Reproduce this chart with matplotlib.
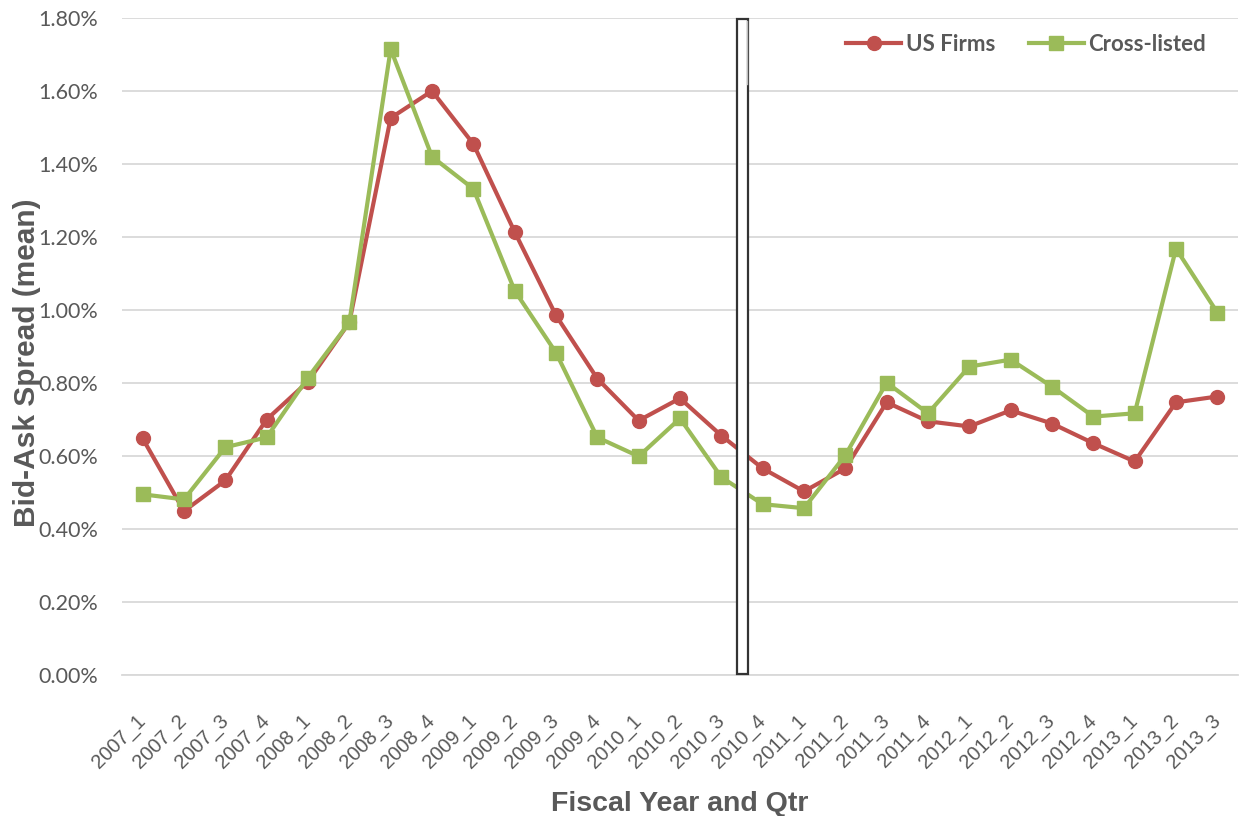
import matplotlib
matplotlib.use("Agg")
import matplotlib.pyplot as plt
from matplotlib.patches import Rectangle
from matplotlib.ticker import FuncFormatter, MultipleLocator

categories = ["2007_1", "2007_2", "2007_3", "2007_4", "2008_1", "2008_2", "2008_3", "2008_4",
              "2009_1", "2009_2", "2009_3", "2009_4", "2010_1", "2010_2", "2010_3", "2010_4",
              "2011_1", "2011_2", "2011_3", "2011_4", "2012_1", "2012_2", "2012_3", "2012_4",
              "2013_1", "2013_2", "2013_3"]
us_firms = [0.648, 0.449, 0.533, 0.700, 0.804, 0.966, 1.526, 1.600, 1.455, 1.214, 0.985,
            0.812, 0.697, 0.758, 0.656, 0.566, 0.503, 0.566, 0.747, 0.695, 0.681, 0.725,
            0.689, 0.635, 0.585, 0.747, 0.763]
cross_listed = [0.495, 0.481, 0.624, 0.651, 0.815, 0.966, 1.715, 1.420, 1.332, 1.053, 0.883,
                0.651, 0.599, 0.703, 0.542, 0.468, 0.457, 0.602, 0.801, 0.717, 0.845, 0.864,
                0.790, 0.708, 0.717, 1.168, 0.993]

RED = "#C0504D"
GREEN = "#9BBB59"
TXT = "#595959"

fig = plt.figure(figsize=(12.41, 8.16), dpi=100)
W, H = 1241, 816
ax = fig.add_axes([122 / W, (H - 675) / H, (1238 - 122) / W, (675 - 18) / H])

x = list(range(len(categories)))
ax.plot(x, us_firms, color=RED, lw=3, marker="o", ms=10, label="US Firms", zorder=3)
ax.plot(x, cross_listed, color=GREEN, lw=3, marker="s", ms=9.5, label="Cross-listed", zorder=3)

ax.set_xlim(-0.5, len(categories) - 0.5)
ax.set_ylim(0, 1.8)
ax.yaxis.set_major_locator(MultipleLocator(0.2))
ax.yaxis.set_major_formatter(FuncFormatter(lambda v, p: f"{v:.2f}%"))
ax.grid(axis="y", color="#D9D9D9", lw=1.3)
ax.set_axisbelow(True)
for s in ["top", "right", "left"]:
    ax.spines[s].set_visible(False)
ax.spines["bottom"].set_color("#D9D9D9")
ax.spines["bottom"].set_linewidth(1.3)
ax.tick_params(axis="both", length=0)
ax.tick_params(axis="y", pad=17)
ax.tick_params(axis="x", pad=31)
ax.set_xticks(x)
ax.set_xticklabels(categories, rotation=45, ha="right", va="center", rotation_mode="anchor",
                   fontsize=14.5, color=TXT, family="Liberation Sans")
for lab in ax.get_yticklabels():
    lab.set_fontsize(15.5)
    lab.set_color(TXT)
    lab.set_family("Lato")

ax.set_xlabel("Fiscal Year and Qtr", fontsize=20.5, fontweight="bold", color=TXT,
              family="Liberation Sans")
ax.xaxis.set_label_coords(0.5, -0.176)
ax.set_ylabel("Bid-Ask Spread (mean)", fontsize=21.5, fontweight="bold", color=TXT,
              family="Liberation Sans", va="center")
ax.yaxis.set_label_coords(-0.085, 0.475)

# marker box between 2010_3 and 2010_4
rect = Rectangle((14.39, 0.002), 0.25, 1.794, facecolor="white", edgecolor="#333333",
                 lw=1.6, zorder=5, clip_on=False)
ax.add_patch(rect)
ax.plot([14.62, 14.62], [1.62, 1.792], color="#BBBBBB", lw=1, zorder=6)

leg = ax.legend(loc="upper right", ncol=2, frameon=False,
                handlelength=2.5, columnspacing=1.5, handletextpad=0.2,
                bbox_to_anchor=(0.9895, 1.006), prop={"family": "Lato", "weight": "bold", "size": 16})
for t in leg.get_texts():
    t.set_color(TXT)

fig.savefig("out.png", dpi=100)
